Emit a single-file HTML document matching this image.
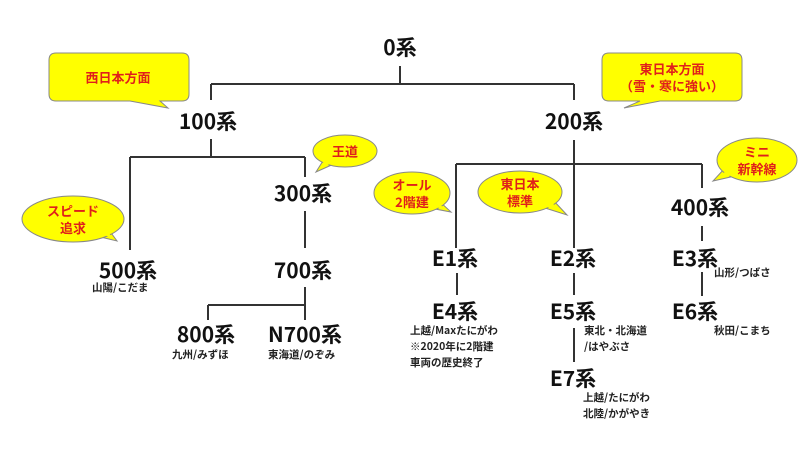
<!DOCTYPE html>
<html><head><meta charset="utf-8"><style>
body{margin:0;width:800px;height:450px;background:#fff;position:relative;overflow:hidden;font-family:"Liberation Sans","Noto Sans CJK JP",sans-serif}
.n{position:absolute;font-size:21px;font-weight:bold;color:#111;transform:translate(-50%,-50%);white-space:nowrap;font-family:"Noto Sans CJK JP",sans-serif}
.s{position:absolute;font-size:10.5px;font-weight:bold;color:#222;line-height:16px;white-space:nowrap;font-family:"Noto Sans CJK JP",sans-serif}
.c{position:absolute;color:#e0201a;font-weight:bold;font-size:13px;line-height:17px;text-align:center;transform:translate(-50%,-50%);white-space:nowrap;font-family:"Noto Sans CJK JP",sans-serif}
svg{position:absolute;left:0;top:0}
</style></head><body>
<svg width="800" height="450">
<g stroke="#333" stroke-width="2" fill="none">
<path d="M400 66V84M211 84H574M211 84V100M574 84V100"/>
<path d="M211 139V157M130 157H305M130 157V250M305 157V177"/>
<path d="M305 211V248M305 287V305M208 305H305M208 305V320M305 305V320"/>
<path d="M574 140V248M456 164H702M456 164V248M702 164V188M702 226V241"/>
<path d="M457 273V295M574 273V295M574 328V362M702 272V296"/>
</g>
<g fill="#ffff00" stroke="#888" stroke-width="1">
<path d="M56 53H182Q189 53 189 60V94Q189 101 182 101H160L168 108L130 101H56Q49 101 49 94V60Q49 53 56 53Z"/>
<path d="M609 53H735Q742 53 742 60V94Q742 101 735 101H660L624 108L640 101H609Q602 101 602 94V60Q602 53 609 53Z"/>
<path d="M326 156L316 172L336 163Z"/>
<ellipse cx="345" cy="151" rx="32" ry="16"/>
<path d="M106 226L117 241L96 236Z"/>
<ellipse cx="73" cy="219" rx="51" ry="23"/>
<path d="M438 200L451 212L430 208Z"/>
<ellipse cx="412" cy="193" rx="38" ry="21"/>
<path d="M553 200L567 215L545 208Z"/>
<ellipse cx="520" cy="192" rx="42" ry="21"/>
<path d="M725 168L713 181L735 176Z"/>
<ellipse cx="757" cy="160" rx="40" ry="22"/>
</g>
<g fill="#ffff00">
<path d="M326 158L319 169L334 162Z"/>
<path d="M104 228L113 238L98 233Z"/>
<path d="M436 202L447 210L432 206Z"/>
<path d="M551 202L562 212L547 207Z"/>
<path d="M727 170L717 179L733 175Z"/>
</g>
</svg>
<div class="c" style="left:118px;top:77px">西日本方面</div>
<div class="c" style="left:672px;top:77px">東日本方面<br>（雪・寒に強い）</div>
<div class="c" style="left:345px;top:151px">王道</div>
<div class="c" style="left:73px;top:219px">スピード<br>追求</div>
<div class="c" style="left:412px;top:193px">オール<br>2階建</div>
<div class="c" style="left:520px;top:192px">東日本<br>標準</div>
<div class="c" style="left:757px;top:160px">ミニ<br>新幹線</div>
<div class="n" style="left:400px;top:47px">0系</div>
<div class="n" style="left:208px;top:121px">100系</div>
<div class="n" style="left:574px;top:121px">200系</div>
<div class="n" style="left:303px;top:193px">300系</div>
<div class="n" style="left:700px;top:207px">400系</div>
<div class="n" style="left:128px;top:270px">500系</div>
<div class="n" style="left:303px;top:270px">700系</div>
<div class="n" style="left:206px;top:334px">800系</div>
<div class="n" style="left:305px;top:334px">N700系</div>
<div class="n" style="left:455px;top:258px">E1系</div>
<div class="n" style="left:573px;top:258px">E2系</div>
<div class="n" style="left:695px;top:258px">E3系</div>
<div class="n" style="left:455px;top:311px">E4系</div>
<div class="n" style="left:573px;top:311px">E5系</div>
<div class="n" style="left:695px;top:311px">E6系</div>
<div class="n" style="left:573px;top:378px">E7系</div>
<div class="s" style="left:92px;top:280px">山陽/こだま</div>
<div class="s" style="left:172px;top:347px">九州/みずほ</div>
<div class="s" style="left:268px;top:347px">東海道/のぞみ</div>
<div class="s" style="left:410px;top:323px">上越/Maxたにがわ<br>※2020年に2階建<br>車両の歴史終了</div>
<div class="s" style="left:584px;top:323px">東北・北海道<br>/はやぶさ</div>
<div class="s" style="left:583px;top:390px">上越/たにがわ<br>北陸/かがやき</div>
<div class="s" style="left:714px;top:265px">山形/つばさ</div>
<div class="s" style="left:714px;top:323px">秋田/こまち</div>
</body></html>
